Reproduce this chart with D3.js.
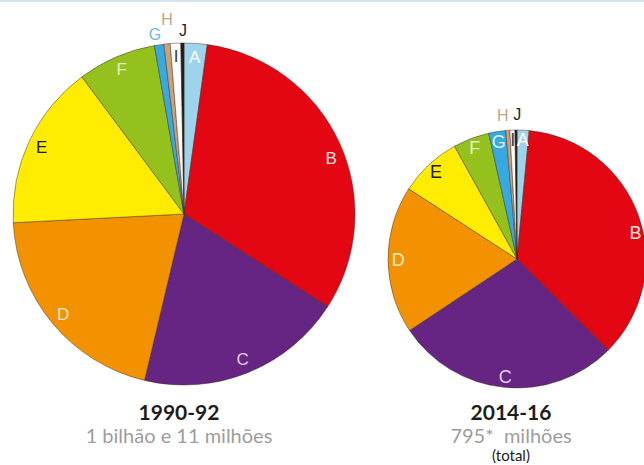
<!DOCTYPE html>
<html>
<head>
<meta charset="utf-8">
<script src="https://cdn.jsdelivr.net/npm/d3@7"></script>
<style>
  html, body { margin: 0; padding: 0; background: #fff; }
  svg { display: block; }
</style>
</head>
<body>
<svg id="chart" width="644" height="465"></svg>
<script>
// regions, clockwise from the top
const regions = ['A', 'B', 'C', 'D', 'E', 'F', 'G', 'H', 'I', 'J']

// undernourished people, millions
const values1990 = [22, 323, 198, 207, 158, 75, 9, 6, 10, 3]
const values2014 = [12, 286, 224, 147, 62, 36, 17, 4, 5, 2]

const periods = ['1990-92', '2014-16']
const totals = ['1 bilhão e 11 milhões', '795*  milhões']

const width = 644
const height = 465

const colors = d3.scaleOrdinal()
  .domain(regions)
  .range(['#9dd4ec', '#e30613', '#662483', '#f39200', '#ffec00',
          '#95c11f', '#36a9e1', '#c9a27a', '#fbfbf8', '#1d1d1b'])

// letter colour when drawn inside the slice
const innerText = {
  A: '#ffffff', B: '#fde3df', C: '#e4cff0', D: '#fde8c6', E: '#1d1d1b',
  F: '#e3efc2', G: '#dff1fb', H: '#c9a27a', I: '#3c3c3b', J: '#1d1d1b'
}
// letter colour when drawn outside the pie
const outerText = { G: '#6db5e2', H: '#c6a47e', J: '#1d1d1b' }

const svg = d3.select('#chart')

svg.append('rect')
  .attr('width', width)
  .attr('height', height)
  .attr('fill', '#fff')

// thin rule along the top
svg.append('line')
  .attr('x1', 0).attr('x2', width)
  .attr('y1', 1).attr('y2', 1)
  .attr('stroke', '#cfe3ef')
  .attr('stroke-width', 2)

const pie = d3.pie().sort(null).value((d) => d.value)

// label placement: [radius factor, angle nudge in degrees]
const charts = [
  {
    values: values1990, cx: 184, cy: 214, r: 171, fontSize: 17,
    outer: { G: [1.065, -0.8], H: [1.14, 0.7], J: [1.075, 0.2] },
    nudge: { B: [0.92, 4] },
    titleX: 179
  },
  {
    values: values2014, cx: 517, cy: 259, r: 129, fontSize: 18,
    outer: { H: [1.12, -1.6], J: [1.12, 0.6] },
    nudge: { B: [0.94, 7.4] },
    titleX: 511
  }
]

charts.forEach((c, i) => {
  const data = regions.map((k, j) => ({ key: k, value: c.values[j] }))
  const arcs = pie(data)

  const g = svg.append('g')
    .attr('transform', `translate(${c.cx},${c.cy})`)

  const arc = d3.arc().innerRadius(0).outerRadius(c.r)

  g.selectAll('path')
    .data(arcs)
    .join('path')
    .attr('d', arc)
    .attr('fill', (d) => colors(d.data.key))
    .attr('stroke', '#3b2a22')
    .attr('stroke-opacity', 0.65)
    .attr('stroke-width', 0.7)
    .attr('stroke-linejoin', 'round')

  // letters: inside at ~0.92 r on the mid-angle, small slices outside
  g.selectAll('text')
    .data(arcs)
    .join('text')
    .attr('transform', (d) => {
      const key = d.data.key
      const [k, da] = c.outer[key] || c.nudge[key] || [0.92, 0]
      const a = (d.startAngle + d.endAngle) / 2 + (da * Math.PI) / 180
      const rr = c.r * k
      return `translate(${rr * Math.sin(a)},${-rr * Math.cos(a)})`
    })
    .attr('text-anchor', 'middle')
    .attr('dominant-baseline', 'central')
    .attr('font-family', '"Liberation Sans", Arial, sans-serif')
    .attr('font-size', (d) => c.outer[d.data.key] ? 16 : c.fontSize)
    .attr('fill', (d) => c.outer[d.data.key] ? outerText[d.data.key] : innerText[d.data.key])
    .text((d) => d.data.key)

  svg.append('text')
    .attr('x', c.titleX)
    .attr('y', 420)
    .attr('text-anchor', 'middle')
    .attr('font-family', 'Lato, "Open Sans", sans-serif')
    .attr('font-weight', 'bold')
    .attr('font-size', 21)
    .attr('fill', '#1d1d1b')
    .text(periods[i])

  svg.append('text')
    .attr('x', c.titleX)
    .attr('y', 443)
    .attr('text-anchor', 'middle')
    .attr('font-family', 'Lato, "Open Sans", sans-serif')
    .attr('font-size', 20)
    .attr('fill', '#9d9d9c')
    .attr('xml:space', 'preserve')
    .style('white-space', 'pre')
    .text(totals[i])
})

svg.append('text')
  .attr('x', 511)
  .attr('y', 461)
  .attr('text-anchor', 'middle')
  .attr('font-family', 'Lato, "Open Sans", sans-serif')
  .attr('font-size', 15)
  .attr('fill', '#1d1d1b')
  .text('(total)')
</script>
</body>
</html>
